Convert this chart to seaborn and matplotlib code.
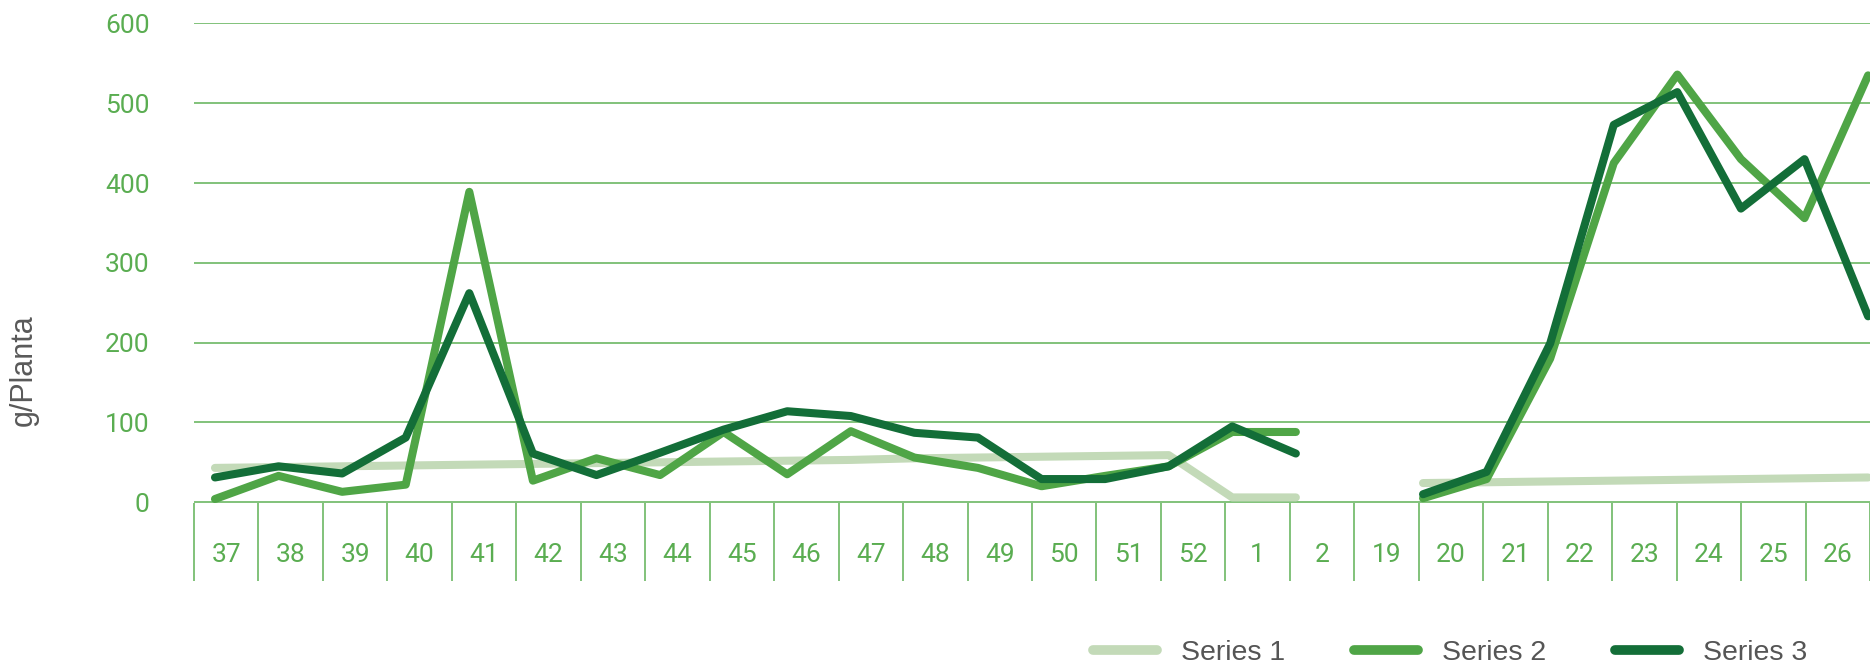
import numpy as np
import pandas as pd
import matplotlib
matplotlib.use('Agg')
import matplotlib.pyplot as plt
import seaborn as sns

# week labels shown in the cells under the chart
weeks = ['37', '38', '39', '40', '41', '42', '43', '44', '45', '46', '47', '48', '49',
         '50', '51', '52', '1', '2', '19', '20', '21', '22', '23', '24', '25', '26']

# values (27 points, gap at the 19th)
series1 = [43, 44, 45, 46, 47, 48, 49, 50, 51, 52, 53, 55, 56, 57, 58, 59, 6, 6,
           np.nan, 24, 25, 26, 27, 28, 29, 30, 31]
series2 = [4, 33, 13, 22, 389, 27, 55, 34, 88, 35, 89, 56, 43, 20, 33, 45, 88, 88,
           np.nan, 5, 29, 180, 425, 536, 430, 356, 535]
series3 = [31, 45, 36, 81, 262, 61, 34, 62, 91, 114, 108, 87, 81, 29, 29, 45, 95, 61,
           np.nan, 10, 38, 199, 473, 514, 368, 430, 233]
names = ['Series 1', 'Series 2', 'Series 3']
colors = ['#c3dab8', '#4fa546', '#136e38']

green = '#5aad51'
grid_green = '#6cb864'
gray = '#555555'

# ! long-form table, one segment id per unbroken run
rows = []
for name, vals in zip(names, [series1, series2, series3]):
    seg = 0
    for i, v in enumerate(vals):
        if np.isnan(v):
            seg += 1
            continue
        rows.append({'pos': i, 'value': v, 'series': name, 'segment': seg})
df = pd.DataFrame(rows)

sns.set_style('white')
plt.rcParams['font.family'] = ['Roboto', 'DejaVu Sans']

fig = plt.figure(figsize=(18.7, 6.68), dpi=100)
ax = fig.add_axes([194 / 1870, 1 - 503 / 668, 1676 / 1870, (503 - 22.7) / 668])

sns.lineplot(data=df, x='pos', y='value', hue='series', units='segment',
             estimator=None, palette=colors, hue_order=names, linewidth=5.8,
             solid_capstyle='round', ax=ax)

ax.set_xlim(-0.33, 26.03)
ax.set_ylim(-1, 601)
ax.set_yticks(range(0, 601, 100))
ax.yaxis.grid(True, color=grid_green, linewidth=1.2)
ax.set_axisbelow(True)
ax.set_xticks([])
ax.set_xlabel('')
ax.set_ylabel('')
for s in ax.spines.values():
    s.set_visible(False)
ax.tick_params(axis='y', length=0, pad=32, labelcolor=green, labelsize=19)

# ! category cells under the axis
ax2 = ax.twiny()
ax2.set_xlim(0, 26)
ax2.xaxis.set_ticks_position('bottom')
ax2.set_xticks(np.arange(27))
ax2.set_xticklabels([])
ax2.set_xticks(np.arange(26) + 0.5, minor=True)
ax2.set_xticklabels(weeks, minor=True)
ax2.tick_params(axis='x', which='major', length=56, width=1.2, color=grid_green, direction='out')
ax2.tick_params(axis='x', which='minor', length=0, pad=29, labelcolor=green, labelsize=19)
for s in ax2.spines.values():
    s.set_visible(False)

fig.text(24 / 1870, 1 - 370 / 668, 'g/Planta', rotation=90, ha='center', va='center',
         fontsize=22, color='#595959', family=['Liberation Sans', 'DejaVu Sans'])

handles, labels = ax.get_legend_handles_labels()
ax.get_legend().remove()
leg = fig.legend(handles, labels, loc='center right', bbox_to_anchor=(0.974, 0.022),
                 ncol=3, frameon=False, handlelength=2.25, handletextpad=0.85,
                 columnspacing=2.4, borderpad=0,
                 prop={'family': ['Liberation Sans Narrow', 'Liberation Sans'], 'size': 20.5})
for t in leg.get_texts():
    t.set_color(gray)
for h in leg.get_lines():
    h.set_linewidth(7)
    h.set_solid_capstyle('round')

fig.savefig('out.png', dpi=100)
